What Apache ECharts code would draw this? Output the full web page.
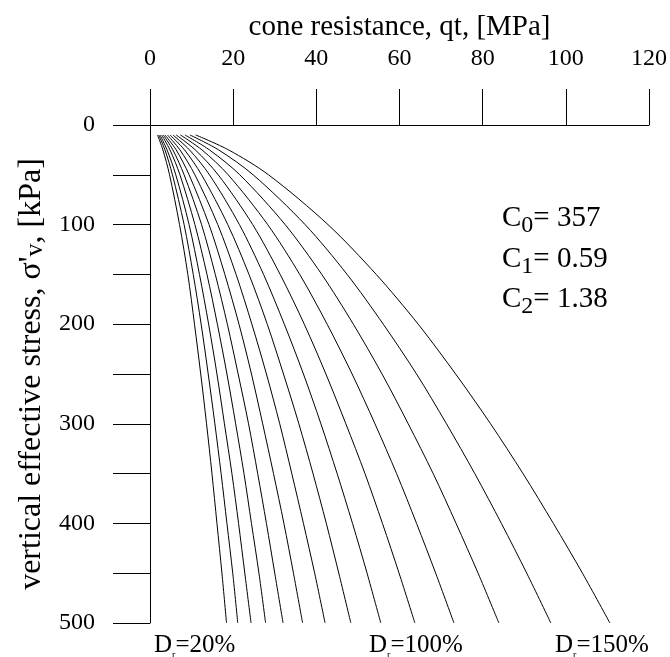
<!DOCTYPE html>
<html><head><meta charset="utf-8">
<script src="https://cdn.jsdelivr.net/npm/echarts@6/dist/echarts.min.js"></script>
<style>html,body{margin:0;padding:0;background:#fff}#c{width:670px;height:657px}</style>
</head><body><div id="c"></div>
<script>
// ---- data ----
const xMin = 0, xMax = 120, xStep = 20;
const yMin = 0, yMax = 500, yStep = 50, yLabelStep = 100;
const depths = [10, 25, 50, 100, 150, 200, 250, 300, 350, 400, 450, 500]; // kPa
const drNames = ['20%','30%','40%','50%','60%','70%','80%','90%','100%','110%','120%','130%','140%','150%'];
const qtDr20  = [1.8, 3.1, 4.7, 7.1, 9.1, 10.7, 12.2, 13.6, 14.9, 16.1, 17.3, 18.4];
const qtDr30  = [2.1, 3.6, 5.4, 8.2, 10.4, 12.3, 14.0, 15.6, 17.1, 18.5, 19.9, 21.1];
const qtDr40  = [2.4, 4.1, 6.2, 9.4, 11.9, 14.1, 16.1, 17.9, 19.7, 21.3, 22.8, 24.3];
const qtDr50  = [2.8, 4.8, 7.2, 10.8, 13.7, 16.2, 18.5, 20.6, 22.6, 24.4, 26.2, 27.8];
const qtDr60  = [3.2, 5.5, 8.2, 12.4, 15.7, 18.6, 21.2, 23.7, 25.9, 28.0, 30.0, 32.0];
const qtDr70  = [3.6, 6.3, 9.4, 14.2, 18.0, 21.4, 24.4, 27.1, 29.7, 32.2, 34.5, 36.7];
const qtDr80  = [4.2, 7.2, 10.8, 16.3, 20.7, 24.5, 28.0, 31.2, 34.1, 36.9, 39.6, 42.1];
const qtDr90  = [4.8, 8.3, 12.4, 18.7, 23.8, 28.2, 32.1, 35.8, 39.2, 42.4, 45.4, 48.3];
const qtDr100 = [5.5, 9.5, 14.3, 21.5, 27.3, 32.3, 36.9, 41.1, 45.0, 48.7, 52.2, 55.5];
const qtDr110 = [6.3, 10.9, 16.4, 24.7, 31.3, 37.1, 42.3, 47.1, 51.7, 55.9, 59.9, 63.7];
const qtDr120 = [7.3, 12.5, 18.8, 28.3, 36.0, 42.6, 48.6, 54.1, 59.3, 64.1, 68.7, 73.1];
const qtDr130 = [8.4, 14.3, 21.6, 32.5, 41.3, 48.9, 55.8, 62.1, 68.1, 73.6, 78.9, 83.9];
const qtDr140 = [9.6, 16.5, 24.8, 37.3, 47.4, 56.1, 64.1, 71.3, 78.1, 84.5, 90.6, 96.4];
const qtDr150 = [11.0, 18.9, 28.5, 42.8, 54.4, 64.5, 73.5, 81.9, 89.7, 97.0, 104.0, 110.6];
const curves = [qtDr20, qtDr30, qtDr40, qtDr50, qtDr60, qtDr70, qtDr80, qtDr90, qtDr100, qtDr110, qtDr120, qtDr130, qtDr140, qtDr150];
const coefNames = ['0', '1', '2'];
const coefValues = ['357', '0.59', '1.38'];
const drLabelTexts = ['20%', '100%', '150%'];

// ---- chart ----
const FF = 'Liberation Serif';
const chart = echarts.init(document.getElementById('c'), null, {renderer: 'canvas'});
const series = curves.map((qc, k) => ({
  name: 'Dr=' + drNames[k],
  type: 'line',
  data: depths.map((d, i) => [qc[i], d]),
  showSymbol: false,
  symbol: 'none',
  smooth: 0.3,
  lineStyle: {color: '#000', width: 1},
  silent: true
}));

const coefY = [218, 259, 299];
const drX = [154, 369, 555];
const graphics = [];
coefNames.forEach((n, i) => {
  graphics.push({
    type: 'text', x: 502, y: coefY[i], silent: true,
    style: {
      text: '{n|C}{s|' + n + '}{n|= ' + coefValues[i] + '}',
      align: 'left', verticalAlign: 'middle', textAlign: 'left', textVerticalAlign: 'middle',
      fill: '#000', fontFamily: FF, fontSize: 29,
      rich: {
        n: {fontSize: 29, fontFamily: FF, fill: '#000'},
        s: {fontSize: 24, fontFamily: FF, fill: '#000', padding: [16, 0, 0, 0]}
      }
    }
  });
});
drLabelTexts.forEach((t, i) => {
  graphics.push({
    type: 'text', x: drX[i], y: 645, silent: true,
    style: {
      text: '{n|D}{r|r}{n|=' + t + '}',
      align: 'left', verticalAlign: 'middle', textAlign: 'left', textVerticalAlign: 'middle',
      fill: '#000', fontFamily: FF, fontSize: 25,
      rich: {
        n: {fontSize: 25, fontFamily: FF, fill: '#000'},
        r: {fontSize: 10, fontFamily: FF, fill: '#000', padding: [20, 0, 0, 0]}
      }
    }
  });
});

chart.setOption({
  animation: false,
  backgroundColor: '#fff',
  textStyle: {fontFamily: FF, color: '#000'},
  grid: {left: 150, right: 21, top: 125, bottom: 34, containLabel: false},
  xAxis: {
    type: 'value', position: 'top', min: xMin, max: xMax, interval: xStep,
    name: 'cone resistance, qt, [MPa]', nameLocation: 'middle', nameGap: 83,
    nameTextStyle: {fontSize: 29, fontFamily: FF, color: '#000'},
    axisLine: {show: true, onZero: false, lineStyle: {color: '#000', width: 1}},
    axisTick: {show: true, inside: false, length: 36, lineStyle: {color: '#000', width: 1}},
    axisLabel: {fontSize: 24, fontFamily: FF, color: '#000', margin: 54},
    splitLine: {show: false}
  },
  yAxis: {
    type: 'value', inverse: true, min: yMin, max: yMax, interval: yStep,
    name: "vertical effective stress, σ'{s|v}, [kPa]", nameLocation: 'middle', nameGap: 100,
    nameTextStyle: {fontSize: 32, fontFamily: FF, color: '#000',
      rich: {s: {fontSize: 26, fontFamily: FF, color: '#000', padding: [8, 0, 0, 0]}}},
    axisLine: {show: true, onZero: false, lineStyle: {color: '#000', width: 1}},
    axisTick: {show: true, inside: false, length: 37, lineStyle: {color: '#000', width: 1}},
    axisLabel: {fontSize: 24, fontFamily: FF, color: '#000', margin: 55,
      formatter: v => (v % yLabelStep === 0 ? String(v) : '')},
    splitLine: {show: false}
  },
  graphic: graphics,
  series: series
});
</script>
</body></html>
